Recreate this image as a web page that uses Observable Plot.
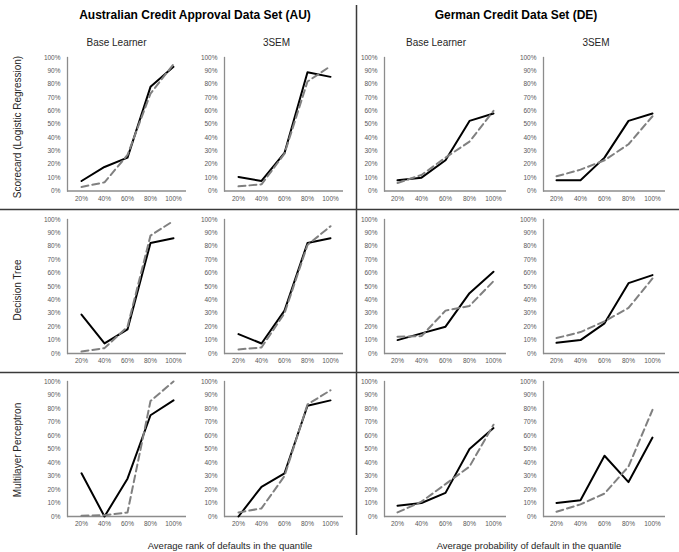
<!DOCTYPE html>
<html><head><meta charset="utf-8">
<script src="https://cdn.jsdelivr.net/npm/d3@7"></script>
<script src="https://cdn.jsdelivr.net/npm/@observablehq/plot@0.6"></script>
<style>
body{margin:0;background:#fff;}
#chart{position:relative;width:679px;height:552px;overflow:hidden;background:#fff;font-family:"Liberation Sans",Arial,sans-serif;}
.panel{position:absolute;}
.panel svg{display:block;overflow:visible;}
#overlay{position:absolute;left:0;top:0;}
</style></head>
<body><div id="chart"></div>
<script>
// ---------- data ----------
const quantiles = ["20%", "40%", "60%", "80%", "100%"];
const datasets = ["Australian Credit Approval Data Set (AU)", "German Credit Data Set (DE)"];
const learners = ["Base Learner", "3SEM"];
const models = ["Scorecard (Logistic Regression)", "Decision Tree", "Multilayer Perceptron"];
const captions = ["Average rank of defaults in the quantile", "Average probability of default in the quantile"];
const yTicks = [0, 0.1, 0.2, 0.3, 0.4, 0.5, 0.6, 0.7, 0.8, 0.9, 1];

// values in percent; solid = black line, dashed = grey dashed line
const auBaseLRSolid  = [7.5, 18, 25, 78, 93];
const auBaseLRDashed = [3, 6.5, 27, 73, 95];
const au3semLRSolid  = [10.5, 7.5, 28.5, 89, 85.5];
const au3semLRDashed = [3.5, 5, 28, 82, 93.5];
const deBaseLRSolid  = [8, 10, 23, 52.5, 58];
const deBaseLRDashed = [6, 12, 25, 37, 60];
const de3semLRSolid  = [8, 8, 25, 52.5, 58];
const de3semLRDashed = [11, 16, 23, 35, 56];

const auBaseDTSolid  = [29, 7.5, 18, 82.5, 86];
const auBaseDTDashed = [1.5, 4, 20, 88, 99];
const au3semDTSolid  = [14.5, 7.5, 32, 82.5, 86];
const au3semDTDashed = [3, 4.5, 30, 81, 95];
const deBaseDTSolid  = [10, 15, 20, 45, 61];
const deBaseDTDashed = [12.5, 13, 32, 35.5, 54];
const de3semDTSolid  = [8, 10, 22.5, 52.5, 58.5];
const de3semDTDashed = [11.5, 16, 24, 34, 56];

const auBaseMLPSolid  = [32, 0, 28, 75, 86];
const auBaseMLPDashed = [0.5, 1, 3, 85.5, 100];
const au3semMLPSolid  = [0, 22, 32, 82, 86];
const au3semMLPDashed = [3, 6, 30, 83, 93.5];
const deBaseMLPSolid  = [8, 10, 17.5, 50, 65.5];
const deBaseMLPDashed = [3, 11, 24, 37, 68];
const de3semMLPSolid  = [10, 12, 45, 25.5, 58.5];
const de3semMLPDashed = [3.5, 9, 17, 37, 79];

const grid = [
  [[auBaseLRSolid, auBaseLRDashed], [au3semLRSolid, au3semLRDashed], [deBaseLRSolid, deBaseLRDashed], [de3semLRSolid, de3semLRDashed]],
  [[auBaseDTSolid, auBaseDTDashed], [au3semDTSolid, au3semDTDashed], [deBaseDTSolid, deBaseDTDashed], [de3semDTSolid, de3semDTDashed]],
  [[auBaseMLPSolid, auBaseMLPDashed], [au3semMLPSolid, au3semMLPDashed], [deBaseMLPSolid, deBaseMLPDashed], [de3semMLPSolid, de3semMLPDashed]]
];

// ---------- layout ----------
const colGeom = [[67, 186], [224, 343], [384, 506], [543, 665]];
const rowGeom = [[57, 190.5], [219, 353], [381, 516]];
const mL = 30, mR = 4, mT = 6, mB = 16;

const chart = document.getElementById("chart");
const NS = "http://www.w3.org/2000/svg";
const ov = document.createElementNS(NS, "svg");
ov.setAttribute("id", "overlay");
ov.setAttribute("width", 679); ov.setAttribute("height", 552);
chart.appendChild(ov);
function line(x1, y1, x2, y2) {
  const l = document.createElementNS(NS, "line");
  l.setAttribute("x1", x1); l.setAttribute("y1", y1); l.setAttribute("x2", x2); l.setAttribute("y2", y2);
  l.setAttribute("stroke", "#3a3a3a"); l.setAttribute("stroke-width", 1.5);
  ov.appendChild(l);
}
function text(str, x, y, size, weight, rotate) {
  const t = document.createElementNS(NS, "text");
  t.textContent = str;
  t.setAttribute("x", x); t.setAttribute("y", y);
  t.setAttribute("text-anchor", "middle");
  t.setAttribute("font-size", size);
  t.setAttribute("font-family", '"Liberation Sans", Arial, sans-serif');
  if (weight) t.setAttribute("font-weight", weight);
  t.setAttribute("fill", weight ? "#000" : "#262626");
  if (rotate) t.setAttribute("transform", `rotate(-90 ${x} ${y})`);
  ov.appendChild(t);
}
line(356.5, 5, 356.5, 535);
line(0, 209.5, 679, 209.5);
line(0, 372.5, 679, 372.5);
text(datasets[0], 195, 18.5, 12, "bold");
text(datasets[1], 516, 18.5, 12, "bold");
const subCenters = [116.5, 276.5, 436, 596];
subCenters.forEach((cx, i) => text(learners[i % 2], cx, 46, 10));
const rowCenters = [127, 290, 450];
rowCenters.forEach((cy, i) => text(models[i], 20.5, cy, 10, null, true));
text(captions[0], 230, 548.5, 9.5);
text(captions[1], 529, 548.5, 9.5);

grid.forEach((row, r) => {
  row.forEach(([solid, dashed], c) => {
    const [x0, x1] = colGeom[c];
    const [yT, yB] = rowGeom[r];
    const w = mL + (x1 - x0) + mR;
    const h = mT + (yB - yT) + mB;
    const dS = quantiles.map((q, i) => ({q, v: solid[i] / 100}));
    const dD = quantiles.map((q, i) => ({q, v: dashed[i] / 100}));
    const p = Plot.plot({
      width: w, height: h,
      marginLeft: mL, marginRight: mR, marginTop: mT, marginBottom: mB,
      style: {fontFamily: '"Liberation Sans", Arial, sans-serif', fontSize: "6.5px", color: "#595959", background: "transparent", overflow: "visible"},
      x: {type: "point", domain: quantiles, padding: 0.5, align: 0.5, label: null, tickSize: 0, tickPadding: 5},
      y: {domain: [0, 1], ticks: yTicks, tickFormat: d3.format(".0%"), label: null, tickSize: 0, tickPadding: 7},
      marks: [
        Plot.ruleY([0], {stroke: "#8c8c8c", strokeWidth: 1.3}),
        Plot.frame({anchor: "left", stroke: "#8c8c8c", strokeWidth: 1.3}),
        Plot.lineY(dS, {x: "q", y: "v", stroke: "#000", strokeWidth: 2}),
        Plot.lineY(dD, {x: "q", y: "v", stroke: "#808080", strokeWidth: 2, strokeDasharray: "7,4"})
      ]
    });
    const div = document.createElement("div");
    div.className = "panel";
    div.style.left = (x0 - mL) + "px";
    div.style.top = (yT - mT) + "px";
    div.style.width = w + "px";
    div.appendChild(p);
    chart.appendChild(div);
  });
});
</script>
</body></html>
